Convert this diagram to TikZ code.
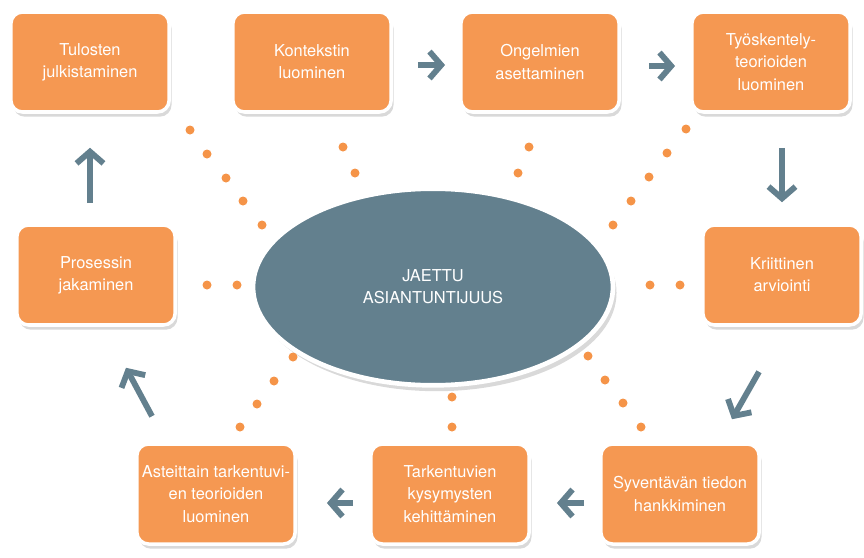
\documentclass[tikz,border=0pt]{standalone}
\usepackage{fontspec}
\setmainfont{TeX Gyre Heros}
\usetikzlibrary{shapes.geometric,shadows,arrows.meta,calc}

\definecolor{boxorange}{RGB}{245,152,82}
\definecolor{slate}{RGB}{99,128,142}
\definecolor{dotorange}{RGB}{245,148,72}

\begin{document}
\begin{tikzpicture}[x=0.03cm, y=-0.03cm,
    stepbox/.style={draw=white, line width=3pt, fill=boxorange, rounded corners=10pt,
      minimum width=4.75cm, minimum height=3cm, text=white, align=center,
      font=\fontsize{14}{19}\selectfont,
      drop shadow={shadow xshift=2pt, shadow yshift=-4pt, opacity=0.3}},
    core/.style={ellipse, draw=white, line width=4pt, fill=slate,
      minimum width=10.8cm, minimum height=5.9cm, text=white, align=center,
      font=\fontsize{14}{19}\selectfont,
      drop shadow={shadow xshift=3pt, shadow yshift=-5pt, opacity=0.3}},
    flow/.style={draw=slate, line width=5pt, -{Straight Barb[length=10pt, width=23pt]}},
    dot/.style={fill=dotorange}]

    \useasboundingbox (0,0) rectangle (864,557);

    % Centre
    \node[core] (jaettu) at (433,287) {JAETTU\\ASIANTUNTIJUUS};

    % Dots from the centre
    \foreach \p in {(190,130),(207,154),(226,178),(243,201),(262,225),
                    (343,147),(355,173),(529,147),(518,173),
                    (686,129),(667,153),(649,177),(631,201),(613,225),
                    (207,285),(237,285),(650,285),(680,285),
                    (293,357),(274,381),(257,404),(240,427),
                    (452,397),(452,427),
                    (588,356),(605,380),(623,403),(641,427)}
        \fill[dot] \p circle[radius=0.135cm];

    % Top row
    \node[stepbox] (tulosten) at (90,62) {Tulosten\\julkistaminen};
    \node[stepbox] (kontekstin) at (312,62) {Kontekstin\\luominen};
    \node[stepbox] (ongelmien) at (540,62) {Ongelmien\\asettaminen};
    \node[stepbox] (tyoskentely) at (771,62) {Työskentely-\\teorioiden\\luominen};

    % Middle row
    \node[stepbox] (prosessin) at (96,275) {Prosessin\\jakaminen};
    \node[stepbox] (kriittinen) at (782,275) {Kriittinen\\arviointi};

    % Bottom row
    \node[stepbox] (asteittain) at (216,494) {Asteittain tarkentuvi-\\en teorioiden\\luominen};
    \node[stepbox] (tarkentuvien) at (450,494) {Tarkentuvien\\kysymysten\\kehittäminen};
    \node[stepbox] (syventava) at (680,494) {Syventävän tiedon\\hankkiminen};

    % Cycle arrows
    \draw[flow, shorten <=0.75cm, shorten >=0.42cm] ([yshift=-0.09cm]kontekstin.east) -- ([yshift=-0.09cm]ongelmien.west);
    \draw[flow, shorten <=0.84cm, shorten >=0.45cm] ([yshift=-0.12cm]ongelmien.east) -- ([yshift=-0.12cm]tyoskentely.west);
    \draw[flow, shorten <=1.02cm, shorten >=0.63cm] (kriittinen.north |- tyoskentely.south) -- (kriittinen.north);
    \draw[flow] ($(kriittinen.south)+(-23,45)$) -- ($(syventava.north)+(52,-23)$);
    \draw[flow, shorten <=0.45cm, shorten >=0.78cm] ([yshift=-0.27cm]syventava.west) -- ([yshift=-0.27cm]tarkentuvien.east);
    \draw[flow, shorten <=0.48cm, shorten >=0.9cm] ([yshift=-0.27cm]tarkentuvien.west) -- ([yshift=-0.27cm]asteittain.east);
    \draw[flow] ($(asteittain.north)+(-64,-26)$) -- ($(prosessin.south)+(30,41)$);
    \draw[flow, shorten <=0.6cm, shorten >=1.02cm] (tulosten.south |- prosessin.north) -- (tulosten.south);

\end{tikzpicture}
\end{document}
